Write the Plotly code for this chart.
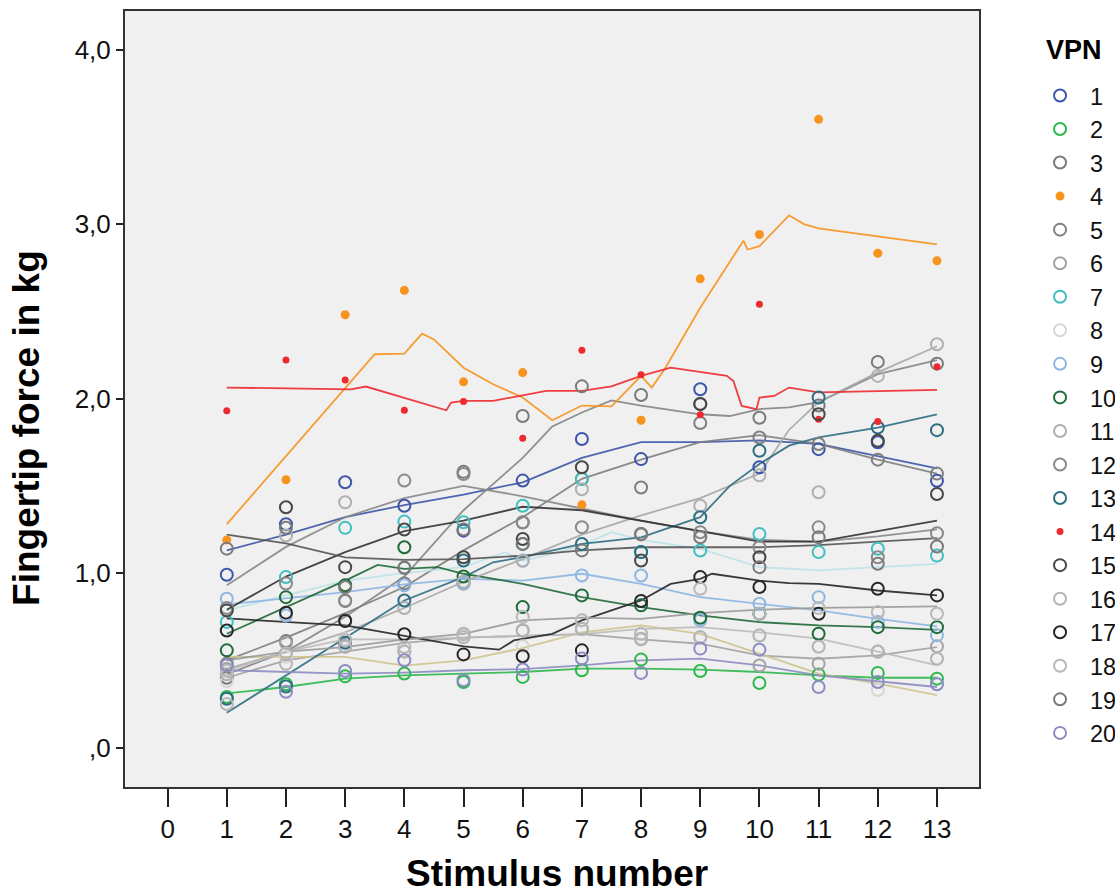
import plotly.graph_objects as go

stimulus = list(range(1, 14))
x_ticks = list(range(0, 14))
y_tickvals = [0, 1, 2, 3, 4]
y_ticktext = [",0", "1,0", "2,0", "3,0", "4,0"]

subjects = [str(i) for i in range(1, 21)]

# measured forces (kg) per subject, stimuli 1..13
force = {
    "1":  [0.99, 1.28, 1.52, 1.386, 1.243, 1.53, 1.768, 1.653, 2.053, 1.606, 1.71, 1.75, 1.529],
    "2":  [0.29, 0.363, 0.408, 0.424, 0.376, 0.405, 0.443, 0.504, 0.439, 0.37, 0.418, 0.428, 0.395],
    "3":  [0.40, 0.61, 0.73, 0.94, 1.58, 1.90, 2.07, 2.02, 1.97, 1.89, 1.96, 2.21, 2.20],
    "4":  [1.19, 1.535, 2.48, 2.62, 2.096, 2.149, 1.392, 1.876, 2.686, 2.94, 3.60, 2.833, 2.79],
    "5":  [0.48, 0.54, 0.84, 1.03, 0.94, 1.29, 1.54, 1.49, 1.86, 1.777, 1.74, 1.65, 1.57],
    "6":  [0.45, 0.60, 0.58, 0.55, 0.65, 0.67, 0.68, 0.62, 0.63, 0.47, 0.48, 0.55, 0.58],
    "7":  [0.72, 0.977, 1.259, 1.295, 1.291, 1.386, 1.539, 1.12, 1.129, 1.224, 1.12, 1.139, 1.10],
    "8":  [0.38, 0.52, 0.62, 0.55, 0.63, 0.58, 0.73, 0.65, 0.63, 0.64, 0.58, 0.33, 0.51],
    "9":  [0.853, 0.757, 0.92, 0.93, 0.94, 1.072, 0.986, 0.986, 0.729, 0.824, 0.862, 0.72, 0.643],
    "10": [0.557, 0.862, 0.93, 1.148, 0.98, 0.805, 0.872, 0.815, 0.744, 0.767, 0.652, 0.69, 0.69],
    "11": [0.42, 1.215, 1.406, 0.80, 0.95, 1.07, 1.48, 1.22, 1.386, 1.56, 1.463, 2.13, 2.311],
    "12": [0.80, 0.94, 0.843, 1.53, 1.567, 1.291, 1.263, 1.224, 1.234, 1.148, 1.262, 1.091, 1.228],
    "13": [0.28, 0.35, 0.60, 0.843, 1.072, 1.167, 1.167, 1.12, 1.32, 1.701, 2.006, 1.834, 1.819],
    "14": [1.93, 2.221, 2.107, 1.933, 1.983, 1.773, 2.277, 2.136, 1.907, 2.541, 1.882, 1.868, 2.183],
    "15": [0.786, 1.377, 1.034, 1.25, 1.091, 1.195, 1.606, 1.072, 1.968, 1.091, 1.91, 1.758, 1.453],
    "16": [0.25, 0.48, 0.576, 0.55, 0.633, 0.672, 0.68, 0.624, 0.633, 0.643, 0.578, 0.549, 0.509],
    "17": [0.671, 0.773, 0.725, 0.649, 0.534, 0.523, 0.557, 0.84, 0.977, 0.92, 0.767, 0.91, 0.872],
    "18": [0.44, 0.54, 0.615, 0.576, 0.652, 0.75, 0.729, 0.652, 0.91, 0.767, 0.80, 0.777, 0.767],
    "19": [1.14, 1.26, 0.92, 1.03, 1.25, 1.167, 1.13, 1.224, 1.205, 1.034, 1.205, 1.053, 1.152],
    "20": [0.471, 0.32, 0.439, 0.50, 0.386, 0.447, 0.51, 0.428, 0.567, 0.561, 0.347, 0.376, 0.363],
}

# smoothed (loess) fit lines per subject: (x positions, fitted values)
fit_x = {
    "3":  [1, 2, 3, 4, 5, 6, 6.5, 7, 7.5, 8, 9, 9.5, 10, 10.5, 11, 12, 13],
    "4":  [1, 3.5, 4, 4.3, 4.5, 5, 5.5, 6, 6.5, 7, 7.5, 8, 8.18, 8.4, 9, 9.73, 9.8, 10, 10.5, 10.75, 11, 12, 13],
    "7":  [1, 2, 3, 4, 5, 5.7, 6, 6.5, 7, 7.5, 8, 9, 10, 11, 12, 13],
    "10": [1, 2, 3, 3.55, 4, 4.56, 5, 6, 7, 8, 9, 10, 11, 12, 13],
    "11": [1, 2, 3, 4, 5, 6, 7, 8, 9, 10, 10.5, 11, 12, 13],
    "13": [1, 2, 3, 4, 5, 5.5, 6, 7, 8, 9, 9.5, 10, 10.5, 11, 12, 13],
    "14": [1, 3.1, 3.35, 4.71, 4.79, 5, 5.5, 6.4, 7, 7.5, 8, 8.5, 9.45, 9.56, 9.7, 9.95, 10, 10.25, 10.5, 11, 13],
    "17": [1, 2, 3, 4, 5, 5.6, 5.85, 6.5, 7, 7.5, 8, 8.5, 9, 9.2, 10, 10.5, 11, 12, 13],
}
fit_y = {
    "1":  [1.13, 1.22, 1.32, 1.39, 1.45, 1.52, 1.66, 1.75, 1.75, 1.76, 1.74, 1.67, 1.60],
    "2":  [0.31, 0.347, 0.395, 0.414, 0.424, 0.433, 0.452, 0.452, 0.447, 0.433, 0.414, 0.40, 0.40],
    "3":  [0.42, 0.55, 0.75, 0.98, 1.36, 1.66, 1.84, 1.92, 1.99, 1.96, 1.91, 1.90, 1.94, 1.95, 1.98, 2.14, 2.22],
    "4":  [1.28, 2.254, 2.257, 2.372, 2.339, 2.177, 2.082, 2.006, 1.876, 1.96, 1.955, 2.13, 2.063, 2.17, 2.52, 2.905, 2.854, 2.873, 3.05, 3.0, 2.975, 2.93, 2.883],
    "5":  [0.50, 0.63, 0.77, 0.92, 1.13, 1.32, 1.54, 1.65, 1.75, 1.79, 1.74, 1.65, 1.57],
    "6":  [0.40, 0.50, 0.55, 0.60, 0.63, 0.64, 0.65, 0.62, 0.595, 0.528, 0.509, 0.528, 0.576],
    "7":  [0.786, 0.87, 0.957, 1.00, 1.034, 1.12, 1.07, 1.11, 1.16, 1.234, 1.19, 1.139, 1.034, 1.015, 1.034, 1.053],
    "8":  [0.52, 0.52, 0.52, 0.47, 0.50, 0.57, 0.66, 0.70, 0.652, 0.538, 0.424, 0.367, 0.30],
    "9":  [0.82, 0.855, 0.891, 0.935, 0.967, 0.957, 0.996, 0.938, 0.862, 0.824, 0.786, 0.738, 0.695],
    "10": [0.652, 0.805, 0.957, 1.047, 1.024, 1.034, 0.996, 0.938, 0.862, 0.805, 0.757, 0.719, 0.70, 0.69, 0.675],
    "11": [0.45, 0.55, 0.66, 0.80, 0.95, 1.08, 1.22, 1.33, 1.43, 1.57, 1.82, 1.98, 2.15, 2.30],
    "12": [0.93, 1.15, 1.32, 1.43, 1.50, 1.44, 1.37, 1.30, 1.24, 1.19, 1.18, 1.21, 1.25],
    "13": [0.199, 0.414, 0.633, 0.843, 0.977, 1.062, 1.091, 1.167, 1.205, 1.32, 1.50, 1.625, 1.73, 1.777, 1.834, 1.91],
    "14": [2.063, 2.053, 2.069, 1.933, 1.977, 1.987, 1.987, 2.044, 2.044, 2.07, 2.13, 2.177, 2.13, 2.101, 1.958, 1.939, 2.006, 2.015, 2.063, 2.035, 2.05],
    "15": [0.79, 0.98, 1.12, 1.24, 1.30, 1.38, 1.36, 1.30, 1.24, 1.18, 1.18, 1.24, 1.30],
    "16": [0.44, 0.55, 0.62, 0.62, 0.63, 0.64, 0.65, 0.68, 0.69, 0.66, 0.624, 0.55, 0.471],
    "17": [0.74, 0.72, 0.70, 0.64, 0.58, 0.561, 0.614, 0.652, 0.729, 0.786, 0.843, 0.938, 0.967, 0.996, 0.957, 0.942, 0.938, 0.90, 0.872],
    "18": [0.50, 0.55, 0.576, 0.62, 0.652, 0.729, 0.745, 0.738, 0.77, 0.79, 0.80, 0.805, 0.809],
    "19": [1.22, 1.17, 1.09, 1.076, 1.08, 1.10, 1.13, 1.148, 1.148, 1.148, 1.16, 1.18, 1.20],
    "20": [0.443, 0.434, 0.424, 0.43, 0.443, 0.45, 0.471, 0.50, 0.51, 0.471, 0.414, 0.38, 0.347],
}

marker_color = {
    "1": "#3D56A8", "2": "#2DB84C", "3": "#7A7A7A", "4": "#F7941D", "5": "#7F7F7F",
    "6": "#A3A3A3", "7": "#3FBFC2", "8": "#D6D6D6", "9": "#8DB6E3", "10": "#1F6B3A",
    "11": "#B0B0B0", "12": "#8A8A8A", "13": "#2E6E82", "14": "#EE2A2F", "15": "#474747",
    "16": "#B5B5B5", "17": "#262626", "18": "#B8B8B8", "19": "#7A7A7A", "20": "#8C8CC4",
}
line_color = dict(marker_color)
line_color.update({"7": "#BDE5E8", "8": "#CFC58E", "3": "#858585", "11": "#A8A8A8",
                   "15": "#333333", "19": "#555555", "16": "#BDBDBD", "18": "#9A9A9A"})

FONT = "Liberation Sans, Arial, sans-serif"

fig = go.Figure()

# fit lines first (underneath markers)
for s in subjects:
    xs = fit_x.get(s, stimulus)
    fig.add_trace(go.Scatter(
        x=xs, y=fit_y[s], mode="lines", showlegend=False, hoverinfo="skip",
        line=dict(color=line_color[s], width=1.8), opacity=0.9,
    ))

for s in subjects:
    if s == "4":
        mk = dict(symbol="circle", size=9, color=marker_color[s])
    elif s == "14":
        mk = dict(symbol="circle", size=7, color=marker_color[s])
    else:
        mk = dict(symbol="circle-open", size=12, color=marker_color[s],
                  line=dict(width=2, color=marker_color[s]))
    fig.add_trace(go.Scatter(
        x=stimulus, y=force[s], mode="markers", name=s, marker=mk,
    ))

axis_font = dict(family=FONT, size=26, color="#111111")

fig.update_layout(
    width=1115, height=895,
    margin=dict(l=125, r=136, t=9, b=108),
    paper_bgcolor="white", plot_bgcolor="#F0F0F0",
    font=dict(family=FONT, color="#111111"),
    showlegend=True,
    legend=dict(
        font=dict(size=23.5, family=FONT),
        xref="container", yref="container",
        x=0.9238, xanchor="left", y=0.9177, yanchor="top",
        bgcolor="rgba(0,0,0,0)", itemsizing="trace", tracegroupgap=0,
        itemwidth=50, maxheight=850,
    ),
    xaxis=dict(
        range=[-0.72, 13.71], tickvals=x_ticks, ticktext=[str(v) for v in x_ticks],
        ticks="outside", ticklen=18, tickwidth=2, tickcolor="#222222",
        showline=True, linecolor="#333333", linewidth=2, mirror=True,
        showgrid=False, zeroline=False, tickfont=axis_font,
    ),
    yaxis=dict(
        range=[-0.226, 4.221], tickvals=y_tickvals, ticktext=y_ticktext,
        ticks="outside", ticklen=7, tickwidth=2, tickcolor="#222222",
        showline=True, linecolor="#333333", linewidth=2, mirror=True,
        showgrid=False, zeroline=False, tickfont=axis_font,
    ),
    annotations=[
        dict(text="<b>Fingertip force in kg</b>", xref="paper", yref="paper",
             x=-0.1148, y=0.4627, textangle=-90, showarrow=False,
             font=dict(size=37, family=FONT, color="#000000"),
             xanchor="center", yanchor="middle"),
        dict(text="<b>Stimulus number</b>", xref="paper", yref="paper",
             x=0.506, y=-0.1118, showarrow=False,
             font=dict(size=37, family=FONT, color="#000000"),
             xanchor="center", yanchor="middle"),
        dict(text="<b>VPN</b>", xref="paper", yref="paper",
             x=1.1112, y=0.9499, showarrow=False,
             font=dict(size=27, family=FONT, color="#000000"),
             xanchor="center", yanchor="middle"),
    ],
)

fig.write_html(
    "out.html",
    config={"displayModeBar": False},
    post_script="document.body.style.margin='0';document.body.style.overflow='hidden';",
)
